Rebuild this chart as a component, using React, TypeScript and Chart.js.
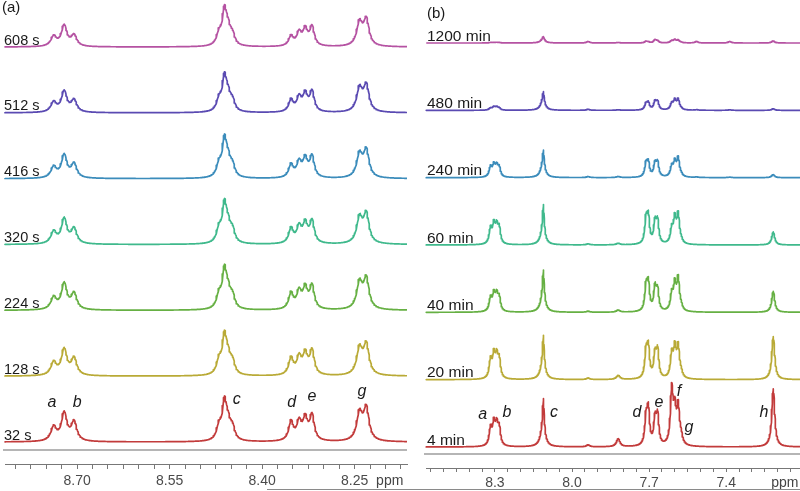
import React, { useEffect, useRef } from 'react';
import { Chart, registerables } from 'chart.js';
Chart.register(...registerables);

// ---------- shared ----------
const traceColors = ['#c23b3b', '#b9aa36', '#66b043', '#3fb98c', '#3b8cbb', '#5a4ab2', '#b552a2'];

// ---------- panel (a) ----------
const traceLabelsA = ['32 s', '128 s', '224 s', '320 s', '416 s', '512 s', '608 s'];
// peaks: a/b multiplet, c group, d/e multiplet, g doublet
const peakPpmA = [8.738, 8.721, 8.705, 8.470, 8.461, 8.455, 8.448, 8.353, 8.340, 8.330, 8.319, 8.242, 8.231];
const peakWidthA = [0.0054, 0.0054, 0.0054, 0.0045, 0.0043, 0.0045, 0.0045, 0.0045, 0.0045, 0.0045, 0.0045, 0.0054, 0.0054];
const heights32s = [14, 28, 19, 13, 37, 14, 12, 19, 18, 21, 25, 27, 32];
const heights128s = [13, 26, 17, 13, 37, 14, 12, 17, 17, 20, 24, 26, 30];
const heights224s = [12, 26, 16, 13, 37, 14, 12, 16, 17, 20, 23, 26, 30];
const heights320s = [12, 25, 15, 13, 37, 14, 12, 15, 16, 19, 22, 25, 29];
const heights416s = [11, 23, 14, 12, 36, 14, 11, 13, 15, 18, 21, 23, 27];
const heights512s = [10, 21, 12, 11, 33, 13, 10, 12, 14, 17, 20, 23, 26];
const heights608s = [10, 21, 11, 11, 34, 14, 10, 10, 13, 16, 19, 23, 26];
const tickLabelsA = [8.7, 8.55, 8.4, 8.25];
const lettersA = ['a', 'b', 'c', 'd', 'e', 'g'];
const letterPpmA = [8.741, 8.7, 8.441, 8.352, 8.319, 8.238];
const letterHeightA = [39, 39, 42, 39, 45, 50];

// ---------- panel (b) ----------
const traceLabelsB = ['4 min', '20 min', '40 min', '60 min', '240 min', '480 min', '1200 min'];
// ab1..ab4, c broad, c narrow, s1, s2, d1, d2, e1, e2, f1, f2, f3, g, s3, s4, h
const peakPpmB = [8.317, 8.304, 8.293, 8.283, 8.113, 8.111, 7.937, 7.82, 7.712, 7.703, 7.677, 7.667, 7.612, 7.6, 7.587, 7.576, 7.515, 7.386, 7.217];
const peakWidthB = [0.006, 0.006, 0.006, 0.006, 0.010, 0.0032, 0.007, 0.008, 0.0056, 0.0056, 0.0058, 0.0058, 0.006, 0.006, 0.006, 0.007, 0.007, 0.007, 0.0068];
const heights4min = [17, 21, 19, 17, 21, 28, 2, 8, 27, 35, 25, 29, 55, 32, 36, 8, 0, 0, 58];
const heights20min = [18, 22, 20, 18, 19, 26, 1.5, 4, 26, 30, 23, 27, 23, 28, 30, 5, 0, 0, 43];
const heights40min = [13, 16, 15, 13, 19, 24, 1, 2, 24, 27, 23, 20, 16, 25, 31, 4, 0, 0, 21];
const heights60min = [15, 18, 16, 15, 17, 24, 1, 1.5, 24, 26, 21, 22, 14, 24, 28, 3, 0, 0, 13];
const heights240min = [10, 11, 10, 9, 14, 14, 1, 1, 13, 14, 13, 14, 10, 14, 18, 2, 0.5, 0.5, 3];
const heights480min = [2, 3, 3, 2, 10, 9, 1, 0.5, 6, 7, 8, 8, 6, 9, 10, 1, 0.5, 0.5, 1.5];
const heights1200min = [0.5, 0.5, 0.5, 0.5, 4, 2.5, 1.5, 0.5, 1.5, 1, 3, 2, 2, 3, 2.5, 0.5, 1.5, 1.5, 2];
const tickLabelsB = [8.3, 8.0, 7.7, 7.4];
const lettersB = ['a', 'b', 'c', 'd', 'e', 'f', 'g', 'h'];
const letterPpmB = [8.347, 8.253, 8.07, 7.747, 7.662, 7.584, 7.545, 7.253];
const letterHeightB = [32, 34, 34, 34, 44, 55, 19, 34];

const FONT = '"Liberation Sans", Arial, Helvetica, sans-serif';

type Cfg = {
  width: number; height: number; left: number; padLeft: number; padRight: number;
  xMin: number; xMax: number; nSamples: number;
  tickFirst: number; tickStep: number; tickCount: number; tickLabels: number[]; decimals: number;
  tickLength: number; tickPadding: number;
  yMax: number; firstOffset: number; spacing: number;
  peakPpm: number[]; peakWidth: number[]; heights: number[][];
  traceLabels: string[]; labelSize: number; labelDx: number;
  letters: string[]; letterPpm: number[]; letterHeight: number[];
  title: string; titleX: number; titleY: number;
  ppmPos: number; greyValue: number;
};

const cfgA: Cfg = {
  width: 415, height: 493, left: 0, padLeft: 5, padRight: 8,
  xMin: 8.165, xMax: 8.817, nSamples: 805,
  tickFirst: 8.8, tickStep: 0.025, tickCount: 26, tickLabels: tickLabelsA, decimals: 2,
  tickLength: 5, tickPadding: 3.6,
  yMax: 464, firstOffset: 22, spacing: 65.83,
  peakPpm: peakPpmA, peakWidth: peakWidthA,
  heights: [heights32s, heights128s, heights224s, heights320s, heights416s, heights512s, heights608s],
  traceLabels: traceLabelsA, labelSize: 14.5, labelDx: -1,
  letters: lettersA, letterPpm: letterPpmA, letterHeight: letterHeightA,
  title: '(a)', titleX: 2, titleY: 8,
  ppmPos: 8.193, greyValue: 14,
};

const cfgB: Cfg = {
  width: 380, height: 494, left: 420, padLeft: 6, padRight: 0,
  xMin: 7.113, xMax: 8.568, nSamples: 1456,
  tickFirst: 8.55, tickStep: 0.05, tickCount: 29, tickLabels: tickLabelsB, decimals: 1,
  tickLength: 4, tickPadding: 2.6,
  yMax: 468, firstOffset: 21, spacing: 67.33,
  peakPpm: peakPpmB, peakWidth: peakWidthB,
  heights: [heights4min, heights20min, heights40min, heights60min, heights240min, heights480min, heights1200min],
  traceLabels: traceLabelsB, labelSize: 15.5, labelDx: 1,
  letters: lettersB, letterPpm: letterPpmB, letterHeight: letterHeightB,
  title: '(b)', titleX: 7, titleY: 14,
  ppmPos: 7.172, greyValue: 14,
};

function spectrum(cfg: Cfg, h: number[], offset: number) {
  const pts: { x: number; y: number }[] = [];
  for (let i = 0; i < cfg.nSamples; i++) {
    const x = cfg.xMin + ((cfg.xMax - cfg.xMin) * i) / (cfg.nSamples - 1);
    let y = offset;
    for (let k = 0; k < cfg.peakPpm.length; k++) {
      const d = (x - cfg.peakPpm[k]) / cfg.peakWidth[k];
      y += h[k] / (1 + d * d);
    }
    pts.push({ x, y });
  }
  return pts;
}

function Panel({ cfg }: { cfg: Cfg }) {
  const ref = useRef<HTMLCanvasElement>(null);
  useEffect(() => {
    const tickValues: number[] = [];
    for (let i = 0; i < cfg.tickCount; i++) tickValues.push(+(cfg.tickFirst - i * cfg.tickStep).toFixed(4));
    const datasets = cfg.heights.map((h, i) => ({
      data: spectrum(cfg, h, cfg.firstOffset + i * cfg.spacing),
      borderColor: traceColors[i],
      borderWidth: 1.7,
      borderJoinStyle: 'round',
      pointRadius: 0,
      fill: false,
      tension: 0,
      clip: false as any,
    }));
    const decor = {
      id: 'decor',
      afterDatasetsDraw(chart: any) {
        const { ctx, chartArea } = chart;
        const xs = chart.scales.x;
        const ys = chart.scales.y;
        ctx.save();
        const gy = ys.getPixelForValue(cfg.greyValue);
        ctx.strokeStyle = '#b5b5b5';
        ctx.lineWidth = 2;
        ctx.beginPath();
        ctx.moveTo(chartArea.left - 2, gy);
        ctx.lineTo(chartArea.right, gy);
        ctx.stroke();
        ctx.fillStyle = '#1a1a1a';
        ctx.font = `${cfg.labelSize}px ${FONT}`;
        ctx.textAlign = 'left';
        ctx.textBaseline = 'alphabetic';
        cfg.traceLabels.forEach((t, i) => {
          const y = ys.getPixelForValue(cfg.firstOffset + i * cfg.spacing);
          ctx.fillText(t, chartArea.left + cfg.labelDx, y - 2.5);
        });
        ctx.font = `italic 16px ${FONT}`;
        ctx.textAlign = 'center';
        ctx.textBaseline = 'middle';
        cfg.letters.forEach((l, i) => {
          ctx.fillText(l, xs.getPixelForValue(cfg.letterPpm[i]), ys.getPixelForValue(cfg.firstOffset + cfg.letterHeight[i]));
        });
        ctx.font = `15px ${FONT}`;
        ctx.textAlign = 'left';
        ctx.fillText(cfg.title, cfg.titleX, cfg.titleY);
        ctx.fillStyle = '#444';
        ctx.font = `14px ${FONT}`;
        ctx.textAlign = 'center';
        ctx.fillText('ppm', xs.getPixelForValue(cfg.ppmPos), xs.top + cfg.tickLength + cfg.tickPadding + 8.4);
        ctx.restore();
      },
    };
    const chart = new Chart(ref.current as HTMLCanvasElement, {
      type: 'line',
      data: { datasets: datasets as any },
      options: {
        animation: false,
        responsive: false,
        devicePixelRatio: 1,
        parsing: false as any,
        layout: { padding: { left: cfg.padLeft, right: cfg.padRight, top: 0, bottom: 0 } },
        plugins: { legend: { display: false }, tooltip: { enabled: false }, title: { display: false } },
        events: [],
        scales: {
          x: {
            type: 'linear',
            reverse: true,
            min: cfg.xMin,
            max: cfg.xMax,
            afterBuildTicks: (scale: any) => {
              scale.ticks = tickValues.map((v) => ({ value: v }));
            },
            ticks: {
              autoSkip: false,
              maxRotation: 0,
              padding: cfg.tickPadding,
              color: '#4a4a4a',
              font: { family: FONT, size: 14 },
              callback: (v: any) =>
                cfg.tickLabels.some((t) => Math.abs(t - Number(v)) < 1e-6) ? Number(v).toFixed(cfg.decimals) : '',
            },
            grid: { display: true, drawOnChartArea: false, drawTicks: true, tickLength: cfg.tickLength, color: '#777', lineWidth: 1 },
            border: { display: true, color: '#777', width: 1 },
          },
          y: { type: 'linear', display: false, min: 0, max: cfg.yMax },
        },
      },
      plugins: [decor],
    });
    return () => chart.destroy();
  }, [cfg]);
  return (
    <canvas
      ref={ref}
      width={cfg.width}
      height={cfg.height}
      style={{ position: 'absolute', left: cfg.left, top: 0, width: cfg.width, height: cfg.height }}
    />
  );
}

export default function App() {
  return (
    <div style={{ position: 'absolute', left: 0, top: 0, width: 800, height: 491, overflow: 'hidden', background: '#fff' }}>
      <Panel cfg={cfgA} />
      <Panel cfg={cfgB} />
      <div style={{ position: 'absolute', left: 267, top: 489, width: 533, height: 1, background: '#8a8a8a' }} />
    </div>
  );
}
